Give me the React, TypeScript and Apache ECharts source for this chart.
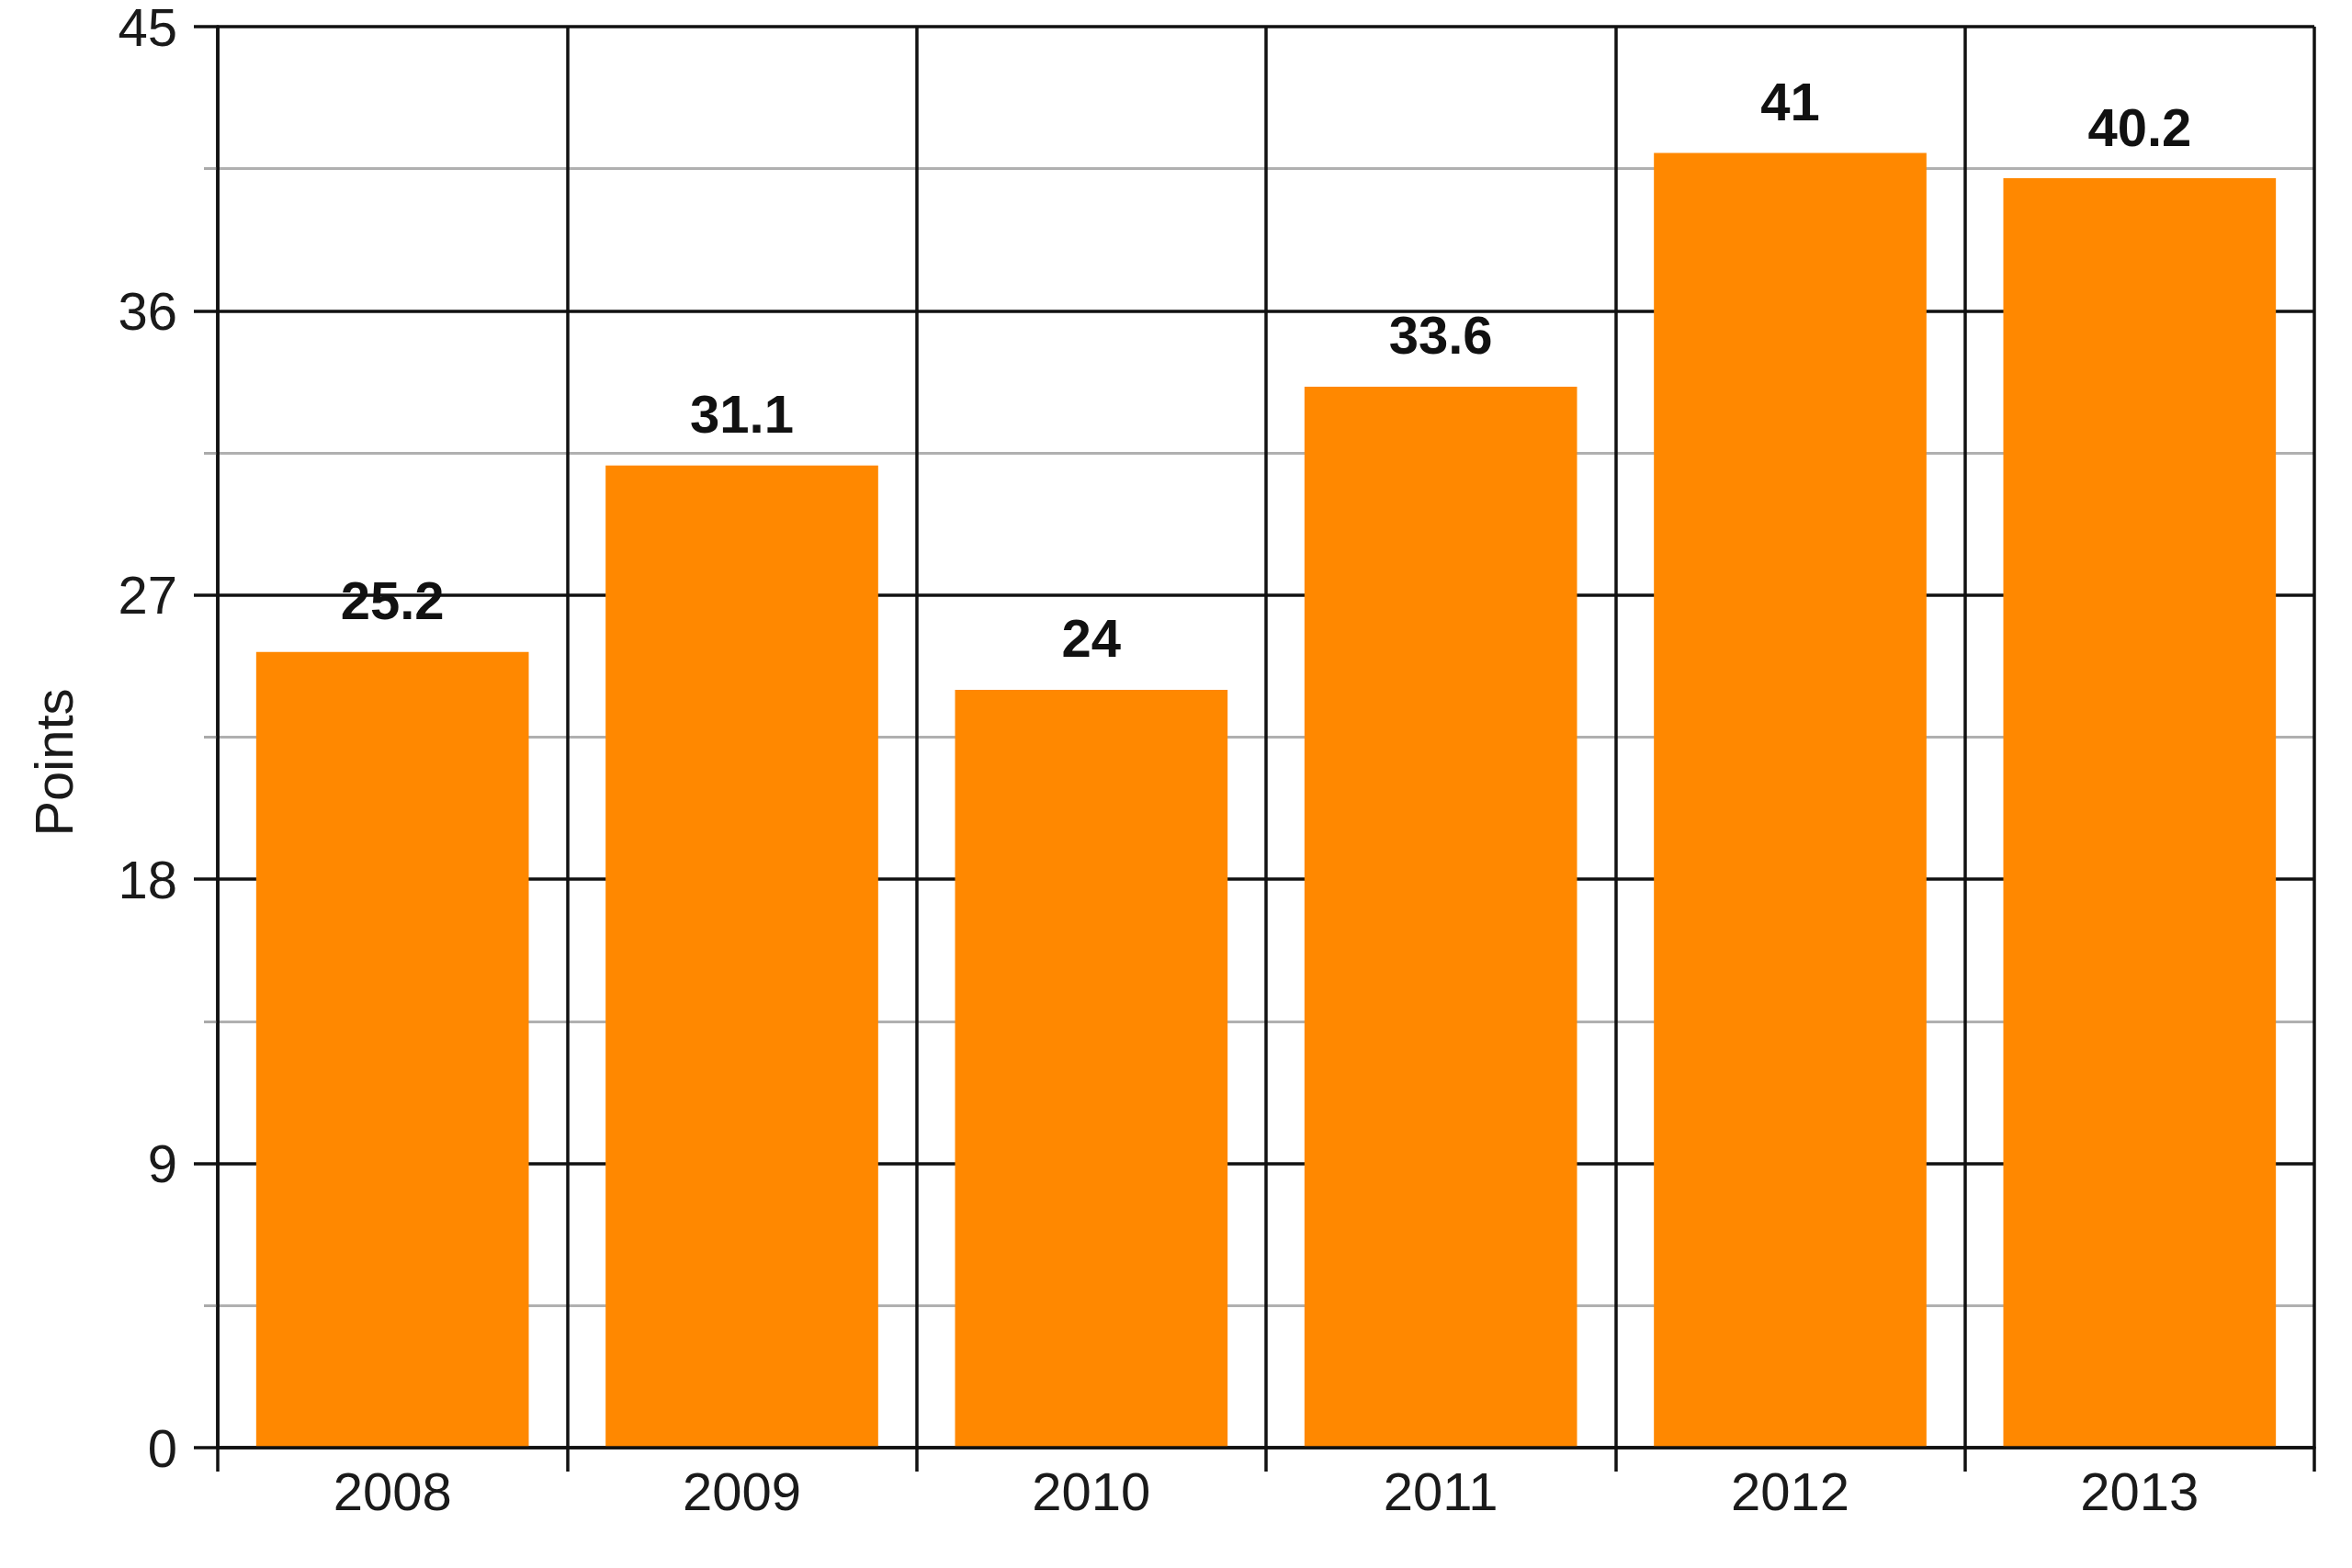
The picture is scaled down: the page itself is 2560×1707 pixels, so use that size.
import React, { useEffect, useRef } from "react";
import * as echarts from "echarts";

const categories = ["2008", "2009", "2010", "2011", "2012", "2013"];
const values = [25.2, 31.1, 24, 33.6, 41, 40.2];
const yMin = 0;
const yMax = 45;
const yInterval = 9;
const yAxisTitle = "Points";

const FONT = "Liberation Sans, Arial, sans-serif";

export default function App() {
  const ref = useRef<HTMLDivElement>(null);
  useEffect(() => {
    document.body.style.margin = "0";
    const chart = echarts.init(ref.current!, null, { renderer: "svg" });
    chart.setOption({
      animation: false,
      backgroundColor: "#ffffff",
      grid: { left: 237, top: 11, right: 41, bottom: 131, containLabel: false },
      xAxis: {
        type: "category",
        data: categories,
        z: 3,
        boundaryGap: true,
        axisLine: { show: true, lineStyle: { color: "#111", width: 3.5 } },
        axisTick: { show: true, length: 26, lineStyle: { color: "#111", width: 3.5 } },
        axisLabel: { color: "#1a1a1a", fontSize: 58, fontFamily: FONT, margin: 18 },
        splitLine: { show: true, lineStyle: { color: "#111", width: 3.5 } },
      },
      yAxis: {
        type: "value",
        min: yMin,
        max: yMax,
        interval: yInterval,
        axisLine: { show: true, lineStyle: { color: "#111", width: 3.5 } },
        axisTick: { show: true, length: 26, lineStyle: { color: "#111", width: 3.5 } },
        minorTick: { show: true, splitNumber: 2, length: 15, lineStyle: { color: "#aaa", width: 3 } },
        axisLabel: { color: "#1a1a1a", fontSize: 58, fontFamily: FONT, margin: 44 },
        splitLine: { show: true, lineStyle: { color: "#111", width: 3.5 } },
        minorSplitLine: { show: true, lineStyle: { color: "#b0b0b0", width: 3 } },
      },
      graphic: [
        {
          type: "text",
          x: 58,
          y: 830,
          rotation: Math.PI / 2,
          style: {
            text: yAxisTitle,
            fontSize: 58,
            fontFamily: FONT,
            fill: "#1a1a1a",
            align: "center",
            verticalAlign: "middle",
          },
        },
      ],
      series: [
        {
          type: "bar",
          data: values,
          barCategoryGap: "22%",
          itemStyle: { color: "#FF8800" },
          label: {
            show: true,
            position: "top",
            distance: 27,
            color: "#111",
            fontSize: 58,
            fontWeight: "bold",
            fontFamily: FONT,
          },
        },
      ],
    });
    return () => chart.dispose();
  }, []);
  return <div ref={ref} style={{ width: 2560, height: 1707 }} />;
}
